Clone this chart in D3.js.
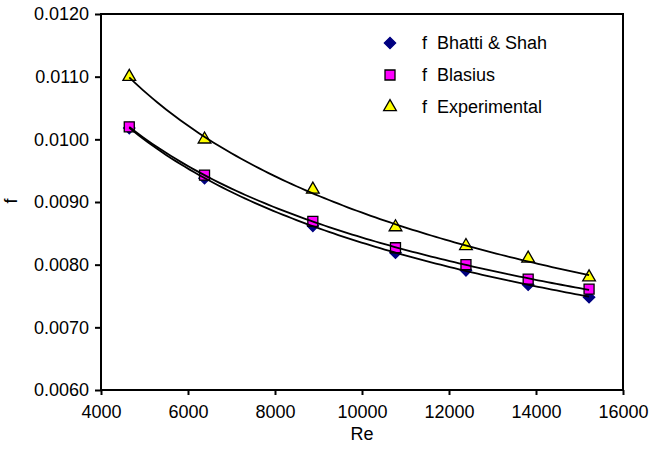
<!DOCTYPE html>
<html>
<head>
<meta charset="utf-8">
<script src="https://d3js.org/d3.v7.min.js"></script>
<style>
  body { margin: 0; background: #fff; }
  svg { font-family: "Liberation Sans", Arial, sans-serif; }
</style>
</head>
<body>
<div id="chart"></div>
<script>
// values
var reValues = [4650, 6380, 8870, 10770, 12390, 13820, 15220];
var fBhatti = [0.01018, 0.00938, 0.00862, 0.00819, 0.00791, 0.00768, 0.00748];
var fBlasius = [0.01020, 0.00943, 0.00869, 0.00827, 0.00800, 0.00777, 0.00761];
var fExperimental = [0.0110, 0.0100, 0.0092, 0.0086, 0.0083, 0.0081, 0.0078];
var seriesNames = ["f  Bhatti & Shah", "f  Blasius", "f  Experimental"];
var xTicks = [4000, 6000, 8000, 10000, 12000, 14000, 16000];
var yTicks = [0.0060, 0.0070, 0.0080, 0.0090, 0.0100, 0.0110, 0.0120];

var chartWidth = 651;
var chartHeight = 449;
var margin = { top: 14, right: 28, bottom: 59, left: 101 };
var innerWidth = chartWidth - margin.left - margin.right;
var innerHeight = chartHeight - margin.top - margin.bottom;

var svg = d3.select('#chart').append('svg')
  .attr('width', chartWidth)
  .attr('height', chartHeight);

var xScale = d3.scaleLinear().domain([4000, 16000]).range([0, innerWidth]);
var yScale = d3.scaleLinear().domain([0.0060, 0.0120]).range([innerHeight, 0]);

var g = svg.append('g').attr('transform', `translate(${margin.left},${margin.top})`);

// power trendline, same as excel: ln f = ln a + b ln Re
function powerFit(xs, ys) {
  var lx = xs.map(Math.log), ly = ys.map(Math.log);
  var mx = d3.mean(lx), my = d3.mean(ly);
  var b = d3.sum(lx, (d, i) => (d - mx) * (ly[i] - my)) / d3.sum(lx, d => (d - mx) * (d - mx));
  var a = Math.exp(my - b * mx);
  return x => a * Math.pow(x, b);
}

var series = [
  { name: seriesNames[0], values: fBhatti, symbol: 'diamond', fill: '#000080', stroke: '#000080' },
  { name: seriesNames[1], values: fBlasius, symbol: 'square', fill: '#ff00ff', stroke: '#000' },
  { name: seriesNames[2], values: fExperimental, symbol: 'triangle', fill: '#ffff00', stroke: '#000' }
];

function markerPath(sym) {
  if (sym === 'diamond') return d3.symbol(d3.symbolSquare, 64)();
  if (sym === 'square') return d3.symbol(d3.symbolSquare, 100)();
  return d3.symbol(d3.symbolTriangle, 70)();
}
function markerTransform(sym, x, y) {
  return `translate(${x},${y})` + (sym === 'diamond' ? ' rotate(45)' : '');
}

// markers
series.forEach(function(s) {
  g.append('g').selectAll('path')
    .data(s.values)
    .enter()
    .append('path')
    .attr('d', markerPath(s.symbol))
    .attr('transform', (d, i) => markerTransform(s.symbol, xScale(reValues[i]), yScale(d)))
    .style('fill', s.fill)
    .style('stroke', s.stroke)
    .style('stroke-width', 1.3);
});

// trendlines on top of the markers
var reSteps = d3.range(100).map(i => reValues[0] + (reValues[reValues.length - 1] - reValues[0]) * i / 99);
series.forEach(function(s) {
  var fit = powerFit(reValues, s.values);
  g.append('path')
    .datum(reSteps)
    .attr('d', d3.line().x(d => xScale(d)).y(d => yScale(fit(d))))
    .style('fill', 'none')
    .style('stroke', '#000')
    .style('stroke-width', 1.8);
});

// plot frame
g.append('rect')
  .attr('width', innerWidth)
  .attr('height', innerHeight)
  .style('fill', 'none')
  .style('stroke', '#000')
  .style('stroke-width', 2);

var xAxis = g.append('g')
  .attr('transform', `translate(0,${innerHeight})`)
  .call(d3.axisBottom(xScale).tickValues(xTicks).tickSize(5).tickPadding(10).tickFormat(d3.format('d')));
var yAxis = g.append('g')
  .call(d3.axisLeft(yScale).tickValues(yTicks).tickSize(6).tickPadding(6).tickFormat(d3.format('.4f')));

[xAxis, yAxis].forEach(function(ax) {
  ax.select('.domain').remove();
  ax.selectAll('line').style('stroke', '#000').style('stroke-width', 2);
  ax.selectAll('text')
    .style('font-family', '"Liberation Sans", Arial, sans-serif')
    .style('font-size', '18px')
    .style('fill', '#000');
});

// axis titles
svg.append('text')
  .attr('x', margin.left + innerWidth / 2)
  .attr('y', 440)
  .attr('text-anchor', 'middle')
  .style('font-size', '18px')
  .text('Re');
svg.append('text')
  .attr('transform', 'translate(17,201) rotate(-90)')
  .attr('text-anchor', 'middle')
  .style('font-size', '18px')
  .text('f');

// legend
var legend = svg.append('g');
series.forEach(function(s, i) {
  var ly = 43 + i * 32;
  legend.append('path')
    .attr('d', markerPath(s.symbol))
    .attr('transform', markerTransform(s.symbol, 390, ly))
    .style('fill', s.fill)
    .style('stroke', s.stroke)
    .style('stroke-width', 1.3);
  legend.append('text')
    .attr('x', 422)
    .attr('y', ly + 6)
    .style('font-size', '18px')
    .style('white-space', 'pre')
    .attr('xml:space', 'preserve')
    .text(s.name);
});
</script>
</body>
</html>
